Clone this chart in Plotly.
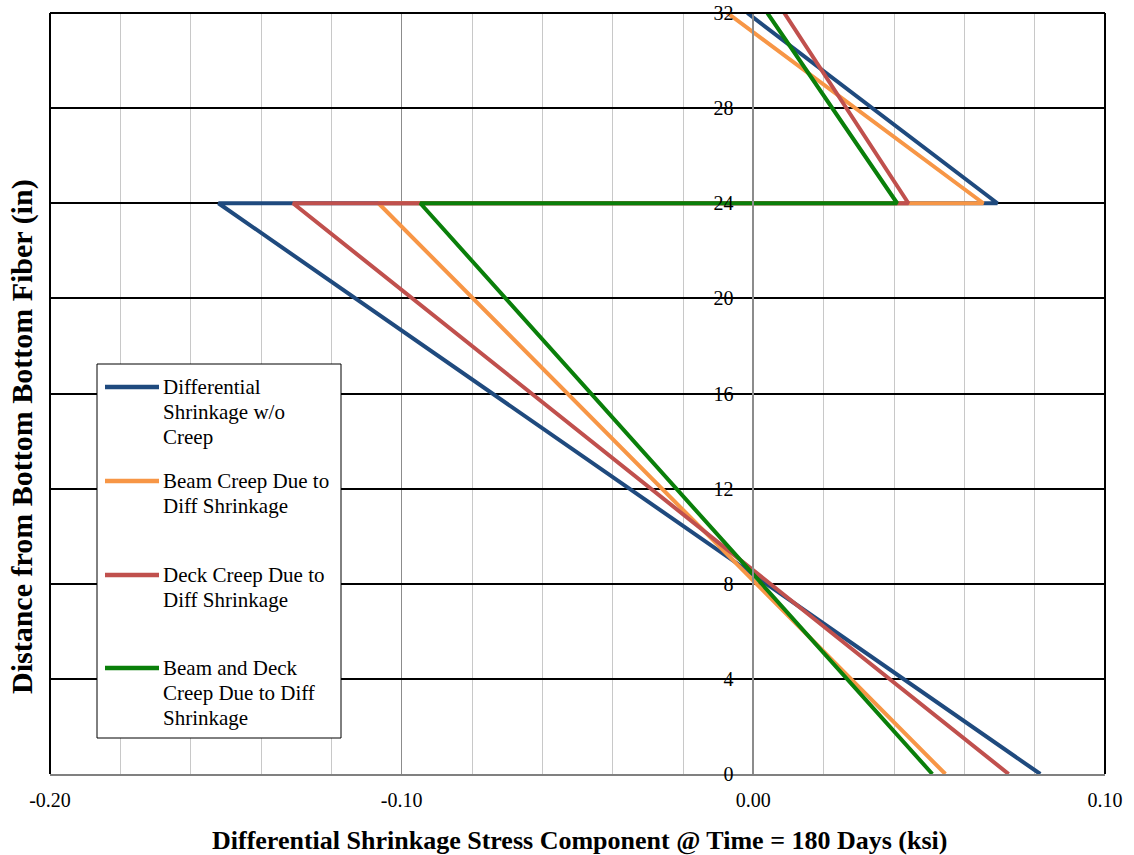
import plotly.graph_objects as go

# ---------------- data ----------------
heights = [0, 24, 24, 32]  # distance from bottom fiber (in)

diff_shrinkage_no_creep = [0.0816, -0.1521, 0.0694, -0.0017]
beam_creep = [0.0546, -0.1066, 0.0654, -0.0074]
deck_creep = [0.0726, -0.1309, 0.0441, 0.0088]
beam_deck_creep = [0.0509, -0.0947, 0.0409, 0.0040]

series_names = [
    "Differential Shrinkage w/o Creep",
    "Beam Creep Due to Diff Shrinkage",
    "Deck Creep Due to Diff Shrinkage",
    "Beam and Deck Creep Due to Diff Shrinkage",
]
legend_lines = [
    ["Differential", "Shrinkage w/o", "Creep"],
    ["Beam Creep Due to", "Diff Shrinkage"],
    ["Deck Creep Due to", "Diff Shrinkage"],
    ["Beam and Deck", "Creep Due to Diff", "Shrinkage"],
]
colors = ["#1F4A7E", "#F79646", "#C0504D", "#0A7F0A"]

x_ticks = [-0.20, -0.10, 0.00, 0.10]
x_tick_labels = ["-0.20", "-0.10", "0.00", "0.10"]
y_ticks = [0, 4, 8, 12, 16, 20, 24, 28, 32]
y_tick_labels = ["0", "4", "8", "12", "16", "20", "24", "28", "32"]

x_title = "Differential Shrinkage Stress Component @ Time = 180 Days (ksi)"
y_title = "Distance from Bottom Bottom Fiber (in)"

# ---------------- layout geometry ----------------
W, H = 1134, 855
L, R, T, B = 50, 1105, 13, 774  # plot area in pixels
PW, PH = R - L, B - T
FONT = "Liberation Serif, Times New Roman, serif"


def px(xp):
    return (xp - L) / PW


def py(yp):
    return (B - yp) / PH


fig = go.Figure()
all_series = [diff_shrinkage_no_creep, beam_creep, deck_creep, beam_deck_creep]
for name, vals, col in zip(series_names, all_series, colors):
    fig.add_trace(go.Scatter(
        x=vals, y=heights, mode="lines", name=name,
        line=dict(color=col, width=4), showlegend=False, cliponaxis=True,
    ))

xmin, xmax = -0.20, 0.10
y0_pos = (0 - xmin) / (xmax - xmin)

fig.update_layout(
    width=W, height=H,
    margin=dict(l=L, r=W - R, t=T, b=H - B, autoexpand=False),
    paper_bgcolor="white", plot_bgcolor="white",
    font=dict(family=FONT, size=20, color="black"),
    showlegend=False,
    xaxis=dict(
        range=[xmin, xmax], tickvals=x_ticks, ticktext=x_tick_labels,
        showgrid=True, gridcolor="#8C8C8C", gridwidth=1,
        minor=dict(dtick=0.02, tick0=0, showgrid=True, gridcolor="#C8C8C8", gridwidth=1),
        zeroline=False, showline=True, linecolor="#808080", linewidth=2,
        ticks="", ticklabelstandoff=7, automargin=False,
        tickfont=dict(family=FONT, size=20, color="black"),
    ),
    yaxis=dict(
        range=[0, 32], tickvals=y_ticks, ticktext=y_tick_labels,
        showgrid=True, gridcolor="black", gridwidth=2,
        zeroline=False, showline=True, linecolor="#8C8C8C", linewidth=1.5,
        anchor="free", position=y0_pos, ticks="", ticklabelstandoff=15,
        automargin=False,
        tickfont=dict(family=FONT, size=20, color="black"),
    ),
)

# plot border (left, top, right)
shape_line = dict(color="black", width=2)
fig.add_shape(type="line", xref="paper", yref="paper", x0=0, x1=0, y0=0, y1=1, line=shape_line)
fig.add_shape(type="line", xref="paper", yref="paper", x0=0, x1=1, y0=1, y1=1, line=shape_line)
fig.add_shape(type="line", xref="paper", yref="paper", x0=1, x1=1, y0=0, y1=1, line=shape_line)

# axis titles
fig.add_annotation(text="<b>" + x_title + "</b>", xref="paper", yref="paper",
                   x=px(580), y=py(840), xanchor="center", yanchor="middle",
                   showarrow=False, font=dict(family=FONT, size=26, color="black"))
fig.add_annotation(text="<b>" + y_title + "</b>", xref="paper", yref="paper",
                   x=px(22), y=py(437), xanchor="center", yanchor="middle", textangle=-90,
                   showarrow=False, font=dict(family=FONT, size=30, color="black"))

# legend (drawn as box + samples + text)
fig.add_shape(type="rect", xref="paper", yref="paper",
              x0=px(97), x1=px(341), y0=py(738), y1=py(364),
              line=dict(color="black", width=1), fillcolor="white", layer="above")
item_tops = [387, 481, 575, 668]
line_gap = 25
for lines, col, top in zip(legend_lines, colors, item_tops):
    fig.add_shape(type="line", xref="paper", yref="paper",
                  x0=px(105), x1=px(159), y0=py(top), y1=py(top),
                  line=dict(color=col, width=4.5), layer="above")
    for k, txt in enumerate(lines):
        fig.add_annotation(text=txt, xref="paper", yref="paper",
                           x=px(161), y=py(top + k * line_gap), xanchor="left", yanchor="middle",
                           showarrow=False, font=dict(family=FONT, size=21, color="black"))

fig.write_html("out.html")
